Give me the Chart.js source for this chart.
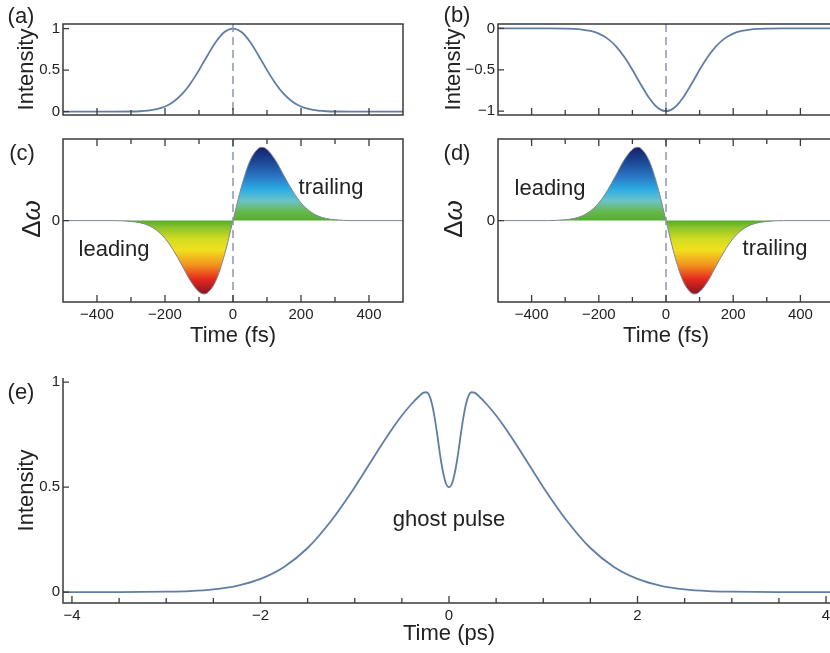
<!DOCTYPE html>
<html>
<head>
<meta charset="utf-8">
<script src="https://cdn.jsdelivr.net/npm/chart.js@4.4.1/dist/chart.umd.min.js"></script>
<style>
  html, body { margin:0; padding:0; background:#fff; width:830px; height:653px; overflow:hidden; }
  body { position:relative; font-family:'Liberation Sans', Arial, sans-serif; color:#222; }
  canvas { position:absolute; }
  .lbl { position:absolute; transform:translate(-50%,-50%); white-space:nowrap; font-size:22px; color:#222; line-height:1; }
  .rot { transform:translate(-50%,-50%) rotate(-90deg); font-size:26px; }
  .rot i { font-style:italic; }
</style>
</head>
<body>
<canvas id="ca" width="410" height="127" style="left:0;top:0"></canvas>
<canvas id="cb" width="420" height="127" style="left:420px;top:0"></canvas>
<canvas id="cc" width="410" height="222" style="left:0;top:127px"></canvas>
<canvas id="cd" width="420" height="222" style="left:420px;top:127px"></canvas>
<canvas id="ce" width="840" height="293" style="left:0;top:360px"></canvas>

<div class="lbl" style="left:21px;top:16px">(a)</div>
<div class="lbl" style="left:457px;top:15px">(b)</div>
<div class="lbl" style="left:22px;top:153px">(c)</div>
<div class="lbl" style="left:457px;top:153px">(d)</div>
<div class="lbl" style="left:21px;top:392px">(e)</div>
<div class="lbl rot" style="left:31px;top:219px">Δ<i>ω</i></div>
<div class="lbl rot" style="left:453px;top:219px">Δ<i>ω</i></div>
<div class="lbl" style="left:114px;top:249px">leading</div>
<div class="lbl" style="left:331px;top:187px">trailing</div>
<div class="lbl" style="left:550px;top:188px">leading</div>
<div class="lbl" style="left:775px;top:248px">trailing</div>
<div class="lbl" style="left:449px;top:519px">ghost pulse</div>

<script>
// ---------- data ----------
const T_FS = [-500,-350,-300,-275,-250,-225,-200,-175,-150,-125,-100,-85,-75,-50,-25,0,25,50,75,85,100,125,150,175,200,225,250,275,300,350,500];
const INTENSITY_A = [0,0,0.002,0.005,0.013,0.03,0.062,0.12,0.21,0.34,0.5,0.607,0.677,0.841,0.958,1,0.958,0.841,0.677,0.607,0.5,0.34,0.21,0.12,0.062,0.03,0.013,0.005,0.002,0,0];
const INTENSITY_B = [0,0,-0.002,-0.005,-0.013,-0.03,-0.062,-0.12,-0.21,-0.34,-0.5,-0.607,-0.677,-0.841,-0.958,-1,-0.958,-0.841,-0.677,-0.607,-0.5,-0.34,-0.21,-0.12,-0.062,-0.03,-0.013,-0.005,-0.002,0,0];
const CHIRP_C = [0,0,-0.012,-0.028,-0.063,-0.131,-0.242,-0.407,-0.611,-0.822,-0.97,-1,-0.985,-0.816,-0.465,0,0.465,0.816,0.985,1,0.97,0.822,0.611,0.407,0.242,0.131,0.063,0.028,0.012,0,0];
const CHIRP_D = [0,0,0.012,0.028,0.063,0.131,0.242,0.407,0.611,0.822,0.97,1,0.985,0.816,0.465,0,-0.465,-0.816,-0.985,-1,-0.97,-0.822,-0.611,-0.407,-0.242,-0.131,-0.063,-0.028,-0.012,0,0];
const T_PS = [-4.1,-3.5,-3,-2.75,-2.5,-2.25,-2,-1.75,-1.5,-1.25,-1,-0.75,-0.6,-0.5,-0.4,-0.32,-0.27,-0.24,-0.21,-0.18,-0.15,-0.12,-0.09,-0.06,-0.03,0,0.03,0.06,0.09,0.12,0.15,0.18,0.21,0.24,0.27,0.32,0.4,0.5,0.6,0.75,1,1.25,1.5,1.75,2,2.25,2.5,2.75,3,3.5,4.1];
const INTENSITY_E = [0,0,0.002,0.005,0.013,0.03,0.063,0.12,0.21,0.34,0.5,0.677,0.779,0.841,0.895,0.932,0.95,0.952,0.938,0.895,0.825,0.735,0.64,0.565,0.515,0.5,0.515,0.565,0.64,0.735,0.825,0.895,0.938,0.952,0.95,0.932,0.895,0.841,0.779,0.677,0.5,0.34,0.21,0.12,0.063,0.03,0.013,0.005,0.002,0,0];

const FS_TICKS = [-400,-300,-200,-100,0,100,200,300,400];
const FS_LABELS = [-400,-200,0,200,400];
const PS_TICKS = [-4,-3.5,-3,-2.5,-2,-1.5,-1,-0.5,0,0.5,1,1.5,2,2.5,3,3.5,4];
const PS_LABELS = [-4,-2,0,2,4];
const Y_TICKS_A = [0,0.5,1];
const Y_TICKS_B = [-1,-0.5,0];
const Y_TICKS_C = [0];
const Y_TICKS_E = [0,0.5,1];

// ---------- styles ----------
const FONT = "'Liberation Sans', Arial, sans-serif";
const CURVE = '#5f7ea6';
const FRAME = '#3a3a3a';
const DASH = '#8a94b6';
const RAINBOW = [[1,'#17206a'],[0.8,'#1b4896'],[0.6,'#2a76c4'],[0.42,'#2eaee4'],[0.27,'#6cc3c6'],[0.12,'#66b84c'],[0,'#54ad2e'],[-0.1,'#8fc52a'],[-0.25,'#d2dc22'],[-0.4,'#f2e01e'],[-0.6,'#f2961f'],[-0.8,'#e6281e'],[-1,'#8a1420']];

Chart.defaults.font.family = FONT;
Chart.defaults.color = '#222';

const fmt = v => String(v).replace('-', '\u2212');
const pts = (xs, ys) => xs.map((x, i) => ({x, y: ys[i]}));

const framePlugin = {
  id: 'frame',
  afterDatasetsDraw(chart, args, o) {
    const {ctx, chartArea: a, scales: {x, y}} = chart;
    ctx.save();
    if (o.dash) {
      ctx.strokeStyle = DASH; ctx.lineWidth = 1.5; ctx.setLineDash([8, 5]);
      const px = x.getPixelForValue(0);
      ctx.beginPath(); ctx.moveTo(px, a.top); ctx.lineTo(px, a.bottom); ctx.stroke();
      ctx.setLineDash([]);
    }
    ctx.strokeStyle = FRAME; ctx.lineWidth = 1.5;
    ctx.beginPath();
    if (o.box) {
      ctx.rect(a.left, a.top, a.right - a.left, a.bottom - a.top);
    } else {
      ctx.moveTo(a.left, a.top); ctx.lineTo(a.left, a.bottom); ctx.lineTo(a.right, a.bottom);
    }
    ctx.stroke();
    ctx.lineWidth = 1.3;
    ctx.beginPath();
    o.xTicks.forEach(v => {
      const px = x.getPixelForValue(v);
      const len = o.xMajor.includes(v) ? 7 : 5;
      ctx.moveTo(px, a.bottom); ctx.lineTo(px, a.bottom - len);
      if (o.topTicks) { ctx.moveTo(px, a.top); ctx.lineTo(px, a.top + len); }
    });
    o.yTicks.forEach(v => {
      const py = y.getPixelForValue(v);
      ctx.moveTo(a.left, py); ctx.lineTo(a.left + 6, py);
    });
    ctx.stroke();
    ctx.restore();
  }
};

function makeChart(id, cfg) {
  const {xs, ys, xMin, xMax, yMin, yMax, xTicks, xMajor, xLabels, yTicks, yTitle, yTitlePad, xTitle, yWidth, xHeight, pad, rainbow, box, topTicks, dash, xDisplay, xTitlePad} = cfg;
  const ds = {
    data: pts(xs, ys),
    borderColor: rainbow ? '#7b8696' : CURVE,
    borderWidth: rainbow ? 1 : 1.8,
    pointRadius: 0,
    cubicInterpolationMode: 'monotone',
    fill: rainbow ? 'origin' : false,
  };
  if (rainbow) {
    ds.backgroundColor = (c) => {
      const ch = c.chart;
      if (!ch.chartArea) return 'rgba(0,0,0,0)';
      const yS = ch.scales.y;
      const g = ch.ctx.createLinearGradient(0, yS.getPixelForValue(1), 0, yS.getPixelForValue(-1));
      RAINBOW.forEach(([v, col]) => g.addColorStop((1 - v) / 2, col));
      return g;
    };
  }
  return new Chart(document.getElementById(id), {
    type: 'line',
    data: {datasets: [ds]},
    options: {
      responsive: false, animation: false, devicePixelRatio: 1,
      layout: {padding: pad},
      plugins: {legend: {display: false}, tooltip: {enabled: false},
        frame: {box, topTicks, dash, xTicks, xMajor, yTicks}},
      scales: {
        x: {
          type: 'linear', min: xMin, max: xMax, display: xDisplay,
          grid: {display: false, drawTicks: false}, border: {display: false},
          afterBuildTicks: s => { s.ticks = xLabels.map(v => ({value: v})); },
          ticks: {font: {size: 15}, padding: 4, maxRotation: 0, callback: fmt, color: '#222'},
          title: {display: !!xTitle, text: xTitle, font: {size: 22}, padding: {top: 0, bottom: xTitlePad || 0}, color: '#222'},
          afterFit: s => { s.height = xHeight; }
        },
        y: {
          type: 'linear', min: yMin, max: yMax,
          grid: {display: false, drawTicks: false}, border: {display: false},
          afterBuildTicks: s => { s.ticks = yTicks.map(v => ({value: v})); },
          ticks: {font: {size: 15}, padding: 3, callback: fmt, color: '#222'},
          title: {display: !!yTitle, text: yTitle, font: {size: 22}, padding: {top: yTitlePad || 0, bottom: 0}, color: '#222'},
          afterFit: s => { s.width = yWidth; }
        }
      }
    },
    plugins: [framePlugin]
  });
}

// (a)
makeChart('ca', {xs: T_FS, ys: INTENSITY_A, xMin: -500, xMax: 500, yMin: -0.04, yMax: 1.055,
  xTicks: FS_TICKS, xMajor: FS_LABELS, xLabels: FS_LABELS, yTicks: Y_TICKS_A, yTitle: 'Intensity', yTitlePad: 13.5,
  yWidth: 63, xHeight: 0, pad: {left: 0, right: 7, top: 24, bottom: 2}, box: true, topTicks: false, dash: true, xDisplay: false});
// (b)
makeChart('cb', {xs: T_FS, ys: INTENSITY_B, xMin: -500, xMax: 500, yMin: -1.046, yMax: 0.054,
  xTicks: FS_TICKS, xMajor: FS_LABELS, xLabels: FS_LABELS, yTicks: Y_TICKS_B, yTitle: 'Intensity', yTitlePad: 21,
  yWidth: 78, xHeight: 0, pad: {left: 0, right: 6, top: 24, bottom: 2}, box: true, topTicks: false, dash: true, xDisplay: false});
// (c)
makeChart('cc', {xs: T_FS, ys: CHIRP_C, xMin: -500, xMax: 500, yMin: -1.11, yMax: 1.113,
  xTicks: FS_TICKS, xMajor: FS_LABELS, xLabels: FS_LABELS, yTicks: Y_TICKS_C, yTitle: '',
  yWidth: 63, xHeight: 47, xTitle: 'Time (fs)', xTitlePad: 0, pad: {left: 0, right: 7, top: 6, bottom: 0}, box: true, topTicks: true, dash: true, xDisplay: true, rainbow: true});
// (d)
makeChart('cd', {xs: T_FS, ys: CHIRP_D, xMin: -500, xMax: 500, yMin: -1.11, yMax: 1.113,
  xTicks: FS_TICKS, xMajor: FS_LABELS, xLabels: FS_LABELS, yTicks: Y_TICKS_C, yTitle: '',
  yWidth: 78, xHeight: 47, xTitle: 'Time (fs)', xTitlePad: 0, pad: {left: 0, right: 6, top: 6, bottom: 0}, box: true, topTicks: true, dash: true, xDisplay: true, rainbow: true});
// (e)
makeChart('ce', {xs: T_PS, ys: INTENSITY_E, xMin: -4.095, xMax: 4.095, yMin: -0.052, yMax: 1.02,
  xTicks: PS_TICKS, xMajor: PS_LABELS, xLabels: PS_LABELS, yTicks: Y_TICKS_E, yTitle: 'Intensity', yTitlePad: 14,
  yWidth: 63, xHeight: 50, xTitle: 'Time (ps)', xTitlePad: 6, pad: {left: 0, right: 5, top: 18, bottom: 0}, box: false, topTicks: false, dash: false, xDisplay: true});
</script>
</body>
</html>
